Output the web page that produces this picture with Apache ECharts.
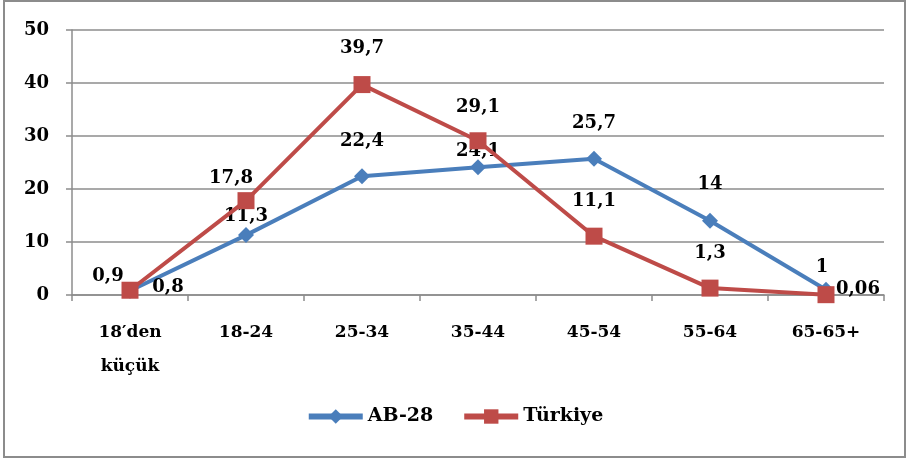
<!DOCTYPE html>
<html><head><meta charset="utf-8">
<script src="https://cdn.jsdelivr.net/npm/echarts@6/dist/echarts.min.js"></script>
<style>html,body{margin:0;padding:0;background:#fff}#c{width:909px;height:460px}</style>
</head><body><div id="c"></div>
<script>
const categories = ["18′den\nküçük", "18-24", "25-34", "35-44", "45-54", "55-64", "65-65+"];
const ab28 = [0.8, 11.3, 22.4, 24.1, 25.7, 14, 1];
const turkiye = [0.9, 17.8, 39.7, 29.1, 11.1, 1.3, 0.06];
const yTicks = [0, 10, 20, 30, 40, 50];

// label offsets (style only)
const abOffsets = [[38,-3],[0,-19],[0,-35],[0,-16],[0,-35],[0,-36],[-4,-22]];
const trOffsets = [[-22,-14],[-15,-22],[0,-36],[0,-33],[0,-35],[0,-35],[32,-5]];

const FONT = "'DejaVu Serif', serif";
const fmt = v => String(v).replace('.', ',');

function build(vals, offs) {
  return vals.map((v, i) => ({
    value: v,
    label: { offset: offs[i] }
  }));
}

const chart = echarts.init(document.getElementById('c'));
chart.setOption({
  animation: false,
  backgroundColor: '#fff',
  graphic: [{
    type: 'rect', shape: { x: 4, y: 1, width: 901, height: 456 },
    style: { fill: 'none', stroke: '#8c8c8c', lineWidth: 2 }, silent: true, z: -1
  }],
  grid: { left: 72, right: 25, top: 30, bottom: 165 },
  legend: {
    bottom: 29, left: 'center',
    itemWidth: 54, itemHeight: 18, itemGap: 28,
    lineStyle: { width: 6 },
    textStyle: { fontFamily: FONT, fontWeight: 'bold', fontSize: 19, color: '#000' },
    data: ['AB-28', 'Türkiye']
  },
  xAxis: {
    type: 'category', data: categories, boundaryGap: true,
    axisLine: { lineStyle: { color: '#8c8c8c', width: 1.5 } },
    axisTick: { show: true, alignWithLabel: false, length: 6, lineStyle: { color: '#8c8c8c', width: 1.5 } },
    axisLabel: { fontFamily: FONT, fontWeight: 'bold', fontSize: 17, color: '#000', margin: 21, lineHeight: 34, interval: 0 }
  },
  yAxis: {
    type: 'value', min: yTicks[0], max: yTicks[yTicks.length - 1], interval: 10,
    axisLine: { show: true, lineStyle: { color: '#8c8c8c', width: 1.5 } },
    axisTick: { show: true, length: 6, lineStyle: { color: '#8c8c8c', width: 1.5 } },
    splitLine: { lineStyle: { color: '#8c8c8c', width: 1.5 } },
    axisLabel: { fontFamily: FONT, fontWeight: 'bold', fontSize: 18, color: '#000', margin: 23 }
  },
  series: [
    {
      name: 'AB-28', type: 'line', data: build(ab28, abOffsets),
      symbol: 'diamond', symbolSize: 16,
      lineStyle: { color: '#4a7ebb', width: 4 },
      itemStyle: { color: '#4a7ebb' },
      label: { show: true, position: 'inside', fontFamily: FONT, fontWeight: 'bold', fontSize: 18, color: '#000',
        formatter: p => fmt(p.value) },
      z: 2
    },
    {
      name: 'Türkiye', type: 'line', data: build(turkiye, trOffsets),
      symbol: 'rect', symbolSize: 17,
      lineStyle: { color: '#be4b48', width: 4 },
      itemStyle: { color: '#be4b48' },
      label: { show: true, position: 'inside', fontFamily: FONT, fontWeight: 'bold', fontSize: 18, color: '#000',
        formatter: p => fmt(p.value) },
      z: 3
    }
  ]
});
</script></body></html>
